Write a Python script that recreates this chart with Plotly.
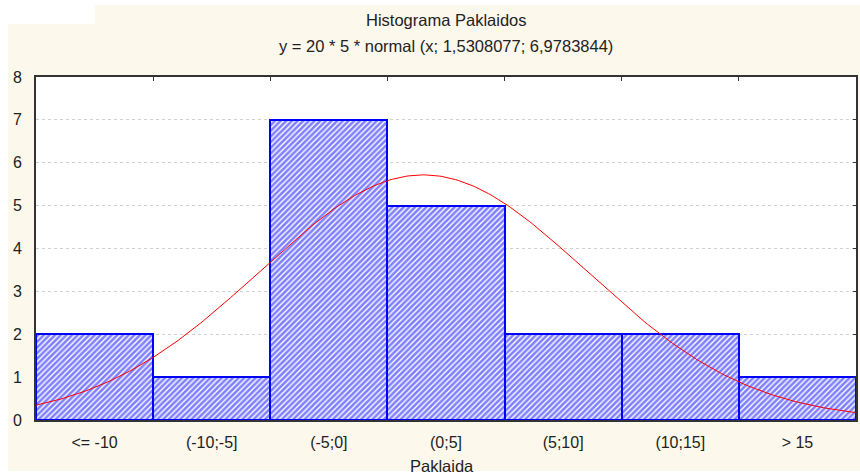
import numpy as np
import plotly.graph_objects as go

categories = ["<= -10", "(-10;-5]", "(-5;0]", "(0;5]", "(5;10]", "(10;15]", "> 15"]
bin_centers = [-12.5, -7.5, -2.5, 2.5, 7.5, 12.5, 17.5]
counts = [2, 1, 7, 5, 2, 2, 1]
bin_edges = [-15, -10, -5, 0, 5, 10, 15, 20]

# fitted normal curve stated in subtitle: y = 20 * 5 * normal(x; mean, sd)
n_obs = 20
bin_width = 5
mean = 1.5308077
sd = 6.9783844

xs = np.linspace(-15, 20, 300)
ys = n_obs * bin_width * np.exp(-((xs - mean) ** 2) / (2 * sd ** 2)) / (sd * np.sqrt(2 * np.pi))

FONT = "Liberation Sans, Arial, sans-serif"
BLUE = "#0000FF"
TXT = "#222222"
W, H = 860, 475
plot_l, plot_r, plot_t, plot_b = 36, 856, 77, 420

fig = go.Figure()
fig.add_trace(go.Bar(
    x=bin_centers, y=counts, width=bin_width,
    marker=dict(color="white",
                line=dict(color=BLUE, width=2),
                pattern=dict(shape="/", fgcolor=BLUE, bgcolor="white", size=4, solidity=0.65)),
    showlegend=False, hoverinfo="skip",
))
fig.add_trace(go.Scatter(
    x=xs, y=ys, mode="lines", line=dict(color="#FF0000", width=1),
    showlegend=False, hoverinfo="skip",
))
fig.add_trace(go.Scatter(x=[bin_edges[0]], y=[0], xaxis="x2", yaxis="y2", mode="markers",
                         marker=dict(opacity=0), showlegend=False, hoverinfo="skip"))

fig.update_layout(
    width=W, height=H,
    margin=dict(l=plot_l, r=W - plot_r, t=plot_t, b=H - plot_b),
    paper_bgcolor="#FDF8EC",
    plot_bgcolor="white",
    bargap=0,
    font=dict(family=FONT, size=16, color=TXT),
    xaxis=dict(
        range=[-15, 20], tickvals=bin_centers, ticktext=categories, automargin=False,
        showgrid=False, zeroline=False, ticks="outside", ticklen=7, tickcolor="rgba(0,0,0,0)",
        tickfont=dict(size=16),
        showline=True, linecolor="#333", linewidth=2, mirror=True,
    ),
    xaxis2=dict(
        range=[-15, 20], overlaying="x", side="top", tickvals=bin_edges,
        ticks="inside", ticklen=4, tickcolor="#333", showticklabels=False,
        showgrid=False, zeroline=False,
    ),
    yaxis=dict(
        range=[0, 8], dtick=1, showgrid=True, gridcolor="#D0D0D0", griddash="dot",
        zeroline=False, ticks="outside", ticklen=9, tickcolor="rgba(0,0,0,0)", automargin=False,
        tickfont=dict(size=16),
        showline=True, linecolor="#333", linewidth=2, mirror=True,
    ),
    yaxis2=dict(
        range=[0, 8], dtick=1, overlaying="y", side="right", ticks="inside", ticklen=3,
        tickcolor="#333", showticklabels=False, showgrid=False, zeroline=False,
    ),
)


def px_to_paper(px, py):
    return (px - plot_l) / (plot_r - plot_l), (plot_b - py) / (plot_b - plot_t)


texts = [
    ("Histograma Paklaidos", 446, 20, 16.5),
    ("y = 20 * 5 * normal (x; 1,5308077; 6,9783844)", 446, 46, 16.5),
    ("Paklaida", 442, 466, 16.5),
]
for t, px, py, fs in texts:
    ax, ay = px_to_paper(px, py)
    fig.add_annotation(text=t, x=ax, y=ay, xref="paper", yref="paper",
                       xanchor="center", yanchor="middle", showarrow=False,
                       font=dict(size=fs, color=TXT))

# white border areas around the cream background (as in the reference image)
for (x0, y0, x1, y1) in [(0, 0, 8, H), (0, 471, W, H), (0, 0, W, 5), (0, 0, 95, 24)]:
    a0, b0 = px_to_paper(x0, y0)
    a1, b1 = px_to_paper(x1, y1)
    fig.add_shape(type="rect", xref="paper", yref="paper", x0=a0, x1=a1, y0=b0, y1=b1,
                  fillcolor="white", line=dict(width=0), layer="below")

fig.write_html("out.html")
